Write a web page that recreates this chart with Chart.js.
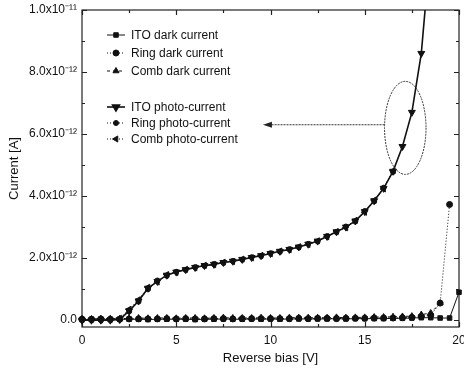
<!DOCTYPE html>
<html>
<head>
<meta charset="utf-8">
<script src="https://cdn.jsdelivr.net/npm/chart.js@4.4.0/dist/chart.umd.min.js"></script>
<style>
  html, body { margin: 0; padding: 0; background: #fff; }
  #plot { display: block; }
</style>
</head>
<body>
<canvas id="plot" width="464" height="370"></canvas>
<script>
// bias sweep, 0.5 V steps
const biasV = [0, 0.5, 1, 1.5, 2, 2.5, 3, 3.5, 4, 4.5, 5, 5.5, 6, 6.5, 7, 7.5, 8, 8.5, 9, 9.5,
  10, 10.5, 11, 11.5, 12, 12.5, 13, 13.5, 14, 14.5, 15, 15.5, 16, 16.5, 17, 17.5, 18, 18.5, 19, 19.5, 20];

// currents in units of 1e-12 A
const itoDark = [0.02, 0.02, 0.03, 0.02, 0.03, 0.03, 0.03, 0.02, 0.03, 0.03, 0.03, 0.03, 0.02, 0.03, 0.03, 0.04, 0.03, 0.03, 0.04, 0.03,
  0.04, 0.03, 0.04, 0.04, 0.04, 0.04, 0.04, 0.05, 0.04, 0.05, 0.05, 0.05, 0.05, 0.06, 0.06, 0.07, 0.08, 0.08, 0.07, 0.07, 0.9];
const ringDark = [0.03, 0.03, 0.04, 0.03, 0.03, 0.04, 0.04, 0.04, 0.04, 0.05, 0.04, 0.05, 0.04, 0.04, 0.05, 0.05, 0.04, 0.05, 0.05, 0.05,
  0.05, 0.05, 0.05, 0.06, 0.05, 0.06, 0.06, 0.05, 0.06, 0.06, 0.06, 0.07, 0.07, 0.07, 0.08, 0.09, 0.12, 0.16, 0.55, 3.73, null];
const combDark = [0.05, 0.04, 0.05, 0.05, 0.05, 0.06, 0.07, 0.06, 0.07, 0.07, 0.06, 0.07, 0.07, 0.06, 0.07, 0.08, 0.07, 0.07, 0.07, 0.08,
  0.07, 0.07, 0.08, 0.08, 0.08, 0.08, 0.08, 0.09, 0.08, 0.09, 0.09, 0.1, 0.1, 0.11, 0.12, 0.13, 0.18, 0.23, 0.55, null, null];
const itoPhoto = [0, 0, 0, 0, 0.02, 0.3, 0.62, 1.03, 1.25, 1.45, 1.55, 1.63, 1.7, 1.76, 1.8, 1.86, 1.9, 1.96, 2.02, 2.08,
  2.15, 2.22, 2.28, 2.36, 2.45, 2.55, 2.7, 2.85, 3.0, 3.2, 3.5, 3.85, 4.25, 4.8, 5.6, 6.7, 8.6, 12.1, null, null, null];
const ringPhoto = [0.01, 0.01, 0, 0.01, 0.04, 0.28, 0.6, 1.0, 1.28, 1.43, 1.56, 1.62, 1.71, 1.75, 1.81, 1.85, 1.91, 1.95, 2.03, 2.07,
  2.16, 2.21, 2.29, 2.35, 2.46, 2.54, 2.71, 2.84, 3.02, 3.18, 3.52, 3.83, 4.27, 4.78, null, null, null, null, null, null, null];
const combPhoto = [0.02, 0.02, 0.01, 0.02, 0.06, 0.35, 0.66, 1.06, 1.23, 1.47, 1.54, 1.64, 1.69, 1.77, 1.79, 1.87, 1.89, 1.97, 2.01, 2.09,
  2.14, 2.23, 2.27, 2.37, 2.44, 2.56, 2.69, 2.86, 2.98, 3.22, 3.48, 3.87, 4.23, 4.82, null, null, null, null, null, null, null];

const xMajor = [0, 5, 10, 15, 20];
const xMinor = [2.5, 7.5, 12.5, 17.5];
const yMajor = [0, 2, 4, 6, 8, 10];
const yMinor = [1, 3, 5, 7, 9];

// circled region + arrow pointing back at the legend (data units)
const ringCenter = { v: 17.15, i: 6.2 };
const ringSize = { v: 1.1, i: 1.5 };
const arrowLevel = 6.3;
const arrowTipV = 9.6;

const INK = '#111';
const pts = arr => arr.map((v, i) => ({ x: biasV[i], y: v }));

function series(label, arr, style, extra) {
  return Object.assign({
    label: label,
    data: pts(arr),
    borderColor: INK,
    backgroundColor: INK,
    pointBackgroundColor: INK,
    pointBorderColor: INK,
    pointBorderWidth: 1,
    pointStyle: style,
    pointRadius: 3,
    borderWidth: 1,
    tension: 0,
    spanGaps: false,
    clip: 6
  }, extra);
}

const datasets = [
  series('ITO photo-current', itoPhoto, 'triangle', { pointRotation: 180, pointRadius: 4, borderWidth: 1.6, clip: { left: 6, top: 0, right: 6, bottom: 6 } }),
  series('Ring photo-current', ringPhoto, 'circle', { pointRadius: 2.5, borderDash: [1, 2] }),
  series('Comb photo-current', combPhoto, 'triangle', { pointRotation: 270, pointRadius: 3.5, borderDash: [1, 2] }),
  series('ITO dark current', itoDark, 'rect', { pointRadius: 3.2 }),
  series('Ring dark current', ringDark, 'circle', { pointRadius: 3, borderDash: [1, 2] }),
  series('Comb dark current', combDark, 'triangle', { pointRadius: 3.5, borderDash: [3, 3] })
];

// inward ticks on all four sides plus the box
const frameTicks = {
  id: 'frameTicks',
  beforeDatasetsDraw(chart) {
    const { ctx, chartArea: a, scales: { x, y } } = chart;
    ctx.save();
    ctx.strokeStyle = '#222';
    ctx.lineWidth = 1.2;
    ctx.strokeRect(a.left, a.top, a.right - a.left, a.bottom - a.top);
    const tx = (v, len) => {
      const px = Math.round(x.getPixelForValue(v)) + 0.5;
      ctx.moveTo(px, a.bottom); ctx.lineTo(px, a.bottom - len);
      ctx.moveTo(px, a.top); ctx.lineTo(px, a.top + len);
    };
    const ty = (v, len) => {
      const py = Math.round(y.getPixelForValue(v)) + 0.5;
      ctx.moveTo(a.left, py); ctx.lineTo(a.left + len, py);
      ctx.moveTo(a.right, py); ctx.lineTo(a.right - len, py);
    };
    ctx.beginPath();
    xMajor.forEach(v => tx(v, 5));
    xMinor.forEach(v => tx(v, 3));
    yMajor.forEach(v => ty(v, 5));
    yMinor.forEach(v => ty(v, 3));
    ctx.stroke();
    ctx.restore();
  }
};

const insideLegend = {
  id: 'insideLegend',
  afterDatasetsDraw(chart) {
    const { ctx, chartArea: a } = chart;
    const order = [3, 4, 5, 0, 1, 2];
    const rowY = [25, 43, 61, 97, 113, 129];
    const mx = a.left + 34;
    ctx.save();
    ctx.font = '12px "Liberation Sans", Arial, sans-serif';
    ctx.textBaseline = 'middle';
    order.forEach((di, r) => {
      const ds = chart.data.datasets[di];
      const yy = a.top + rowY[r];
      ctx.strokeStyle = INK;
      ctx.fillStyle = INK;
      ctx.lineWidth = ds.borderWidth;
      ctx.setLineDash(ds.borderDash || []);
      ctx.beginPath();
      ctx.moveTo(mx - 9, yy); ctx.lineTo(mx + 9, yy);
      ctx.stroke();
      ctx.setLineDash([]);
      Chart.helpers.drawPoint(ctx, {
        pointStyle: ds.pointStyle,
        rotation: ds.pointRotation || 0,
        radius: ds.pointRadius,
        borderWidth: 1
      }, mx, yy);
      ctx.fillText(ds.label, mx + 15, yy + 1);
    });
    ctx.restore();
  }
};

const callout = {
  id: 'callout',
  afterDatasetsDraw(chart) {
    const { ctx, scales: { x, y } } = chart;
    const cx = x.getPixelForValue(ringCenter.v);
    const cy = y.getPixelForValue(ringCenter.i);
    const rx = x.getPixelForValue(ringCenter.v + ringSize.v) - cx;
    const ry = cy - y.getPixelForValue(ringCenter.i + ringSize.i);
    ctx.save();
    ctx.strokeStyle = '#333';
    ctx.fillStyle = '#222';
    ctx.lineWidth = 1;
    ctx.setLineDash([2, 1]);
    ctx.beginPath();
    ctx.ellipse(cx, cy, rx, ry, 0, 0, Math.PI * 2);
    ctx.stroke();
    const ay = y.getPixelForValue(arrowLevel);
    const tip = x.getPixelForValue(arrowTipV);
    ctx.beginPath();
    ctx.moveTo(cx - rx, ay);
    ctx.lineTo(tip + 6, ay);
    ctx.stroke();
    ctx.setLineDash([]);
    ctx.beginPath();
    ctx.moveTo(tip, ay);
    ctx.lineTo(tip + 9, ay - 3);
    ctx.lineTo(tip + 9, ay + 3);
    ctx.closePath();
    ctx.fill();
    ctx.restore();
  }
};

Chart.defaults.font.family = '"Liberation Sans", Arial, sans-serif';
Chart.defaults.font.size = 12;
Chart.defaults.color = INK;

new Chart(document.getElementById('plot'), {
  type: 'line',
  data: { datasets: datasets },
  plugins: [frameTicks, insideLegend, callout],
  options: {
    responsive: false,
    animation: false,
    events: [],
    layout: { padding: { left: 0, right: 3, top: 10, bottom: 0 } },
    plugins: { legend: { display: false }, tooltip: { enabled: false } },
    scales: {
      x: {
        type: 'linear',
        min: 0,
        max: 20,
        grid: { display: false, drawTicks: false },
        border: { display: false },
        ticks: { stepSize: 5, padding: 6, maxRotation: 0, autoSkip: false },
        title: { display: true, text: 'Reverse bias [V]', font: { size: 13 }, padding: { top: 2, bottom: 4 } },
        afterFit(s) { s.height = 43; s.paddingLeft = 0; s.paddingRight = 0; }
      },
      y: {
        min: -0.22,
        max: 10,
        grid: { display: false, drawTicks: false },
        border: { display: false },
        afterBuildTicks(s) { s.ticks = yMajor.map(v => ({ value: v })); },
        ticks: {
          padding: 5,
          callback: v => v === 0 ? '0.0' : (v === 10 ? '1.0x10\u207B\u00B9\u00B9' : v.toFixed(1) + 'x10\u207B\u00B9\u00B2')
        },
        title: { display: true, text: 'Current [A]', font: { size: 13 }, padding: { top: 7, bottom: 0 } },
        afterFit(s) { s.width = 82; s.paddingTop = 0; s.paddingBottom = 0; }
      }
    }
  }
});
</script>
</body>
</html>
